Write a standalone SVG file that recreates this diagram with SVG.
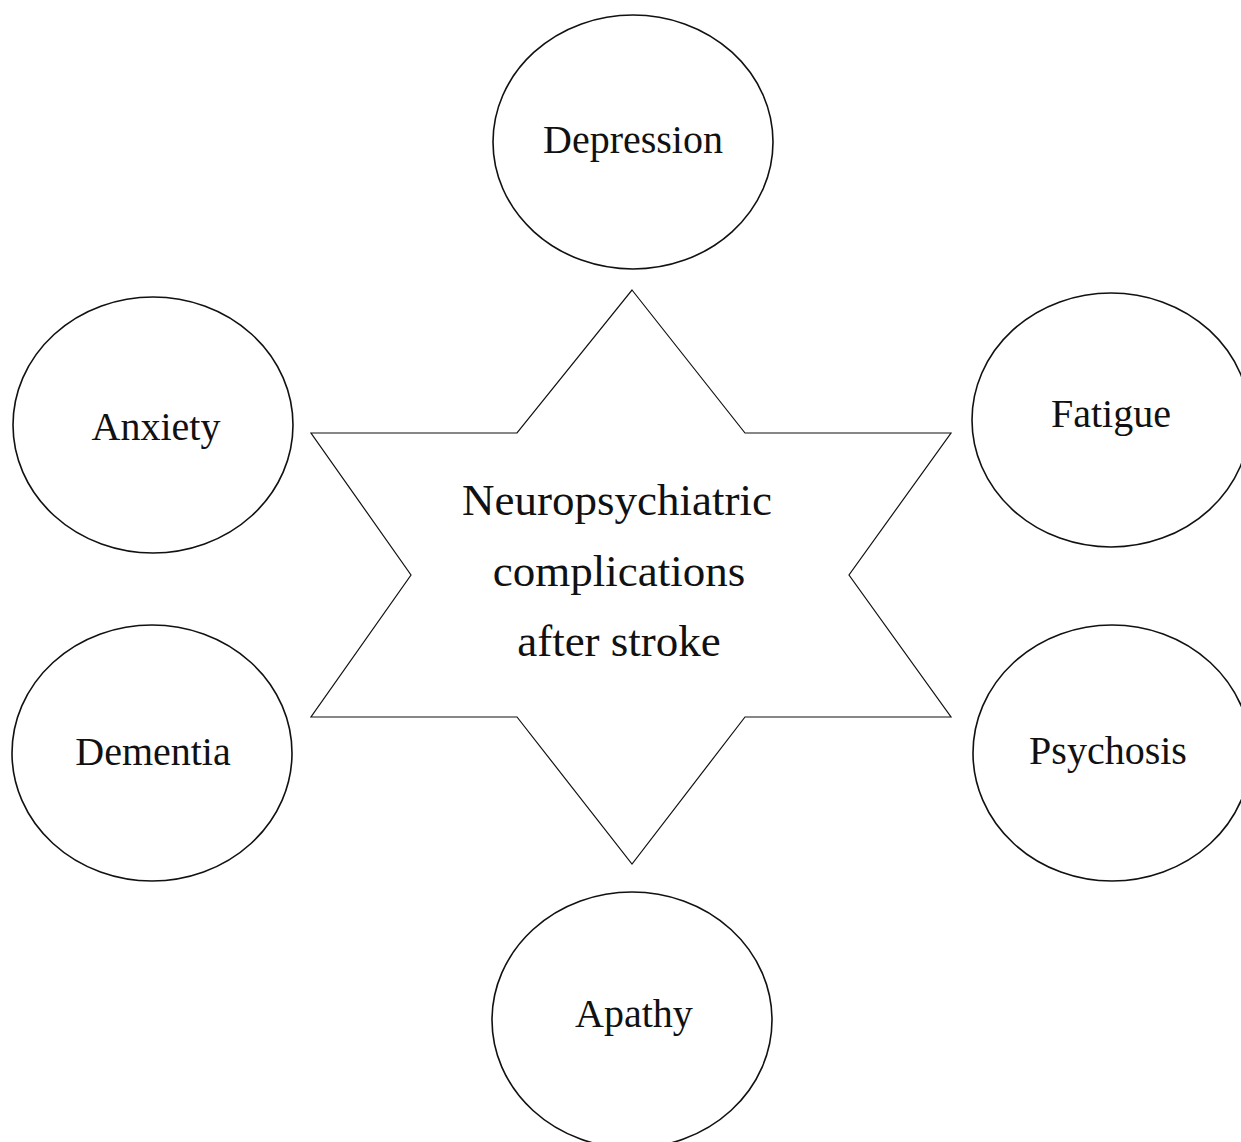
<svg xmlns="http://www.w3.org/2000/svg" width="1241" height="1142" viewBox="0 0 1241 1142">
<style>
.bg{fill:#ffffff}
.node ellipse{fill:#ffffff;stroke:#111111;stroke-width:1.6}
.star{fill:#ffffff;stroke:#111111;stroke-width:1.2;stroke-linejoin:miter}
text{font-family:"Liberation Serif","Times New Roman",serif;fill:#111111;text-anchor:middle}
.lbl{font-size:40px}
.ctr{font-size:45px}
</style>
<rect class="bg" x="0" y="0" width="1241" height="1142"/>
<g id="center">
<polygon class="star" points="632,290 745,433 951,433 849,575 951,717 745,717 632,864 517,717 311,717 411,575 311,433 517,433"/>
<text class="ctr" x="617" y="515">Neuropsychiatric</text>
<text class="ctr" x="619" y="586">complications</text>
<text class="ctr" x="619" y="656">after stroke</text>
</g>
<g id="connectors"></g>
<g id="depression" class="node">
<ellipse cx="633" cy="142" rx="140" ry="127"/>
<text class="lbl" x="633" y="153">Depression</text>
</g>
<g id="anxiety" class="node">
<ellipse cx="153" cy="425" rx="140" ry="128"/>
<text class="lbl" x="156" y="440">Anxiety</text>
</g>
<g id="fatigue" class="node">
<ellipse cx="1111" cy="420" rx="139" ry="127"/>
<text class="lbl" x="1111" y="427">Fatigue</text>
</g>
<g id="dementia" class="node">
<ellipse cx="152" cy="753" rx="140" ry="128"/>
<text class="lbl" x="153" y="765">Dementia</text>
</g>
<g id="psychosis" class="node">
<ellipse cx="1112" cy="753" rx="139" ry="128"/>
<text class="lbl" x="1108" y="764">Psychosis</text>
</g>
<g id="apathy" class="node">
<ellipse cx="632" cy="1020" rx="140" ry="128"/>
<text class="lbl" x="634" y="1027">Apathy</text>
</g>
</svg>
